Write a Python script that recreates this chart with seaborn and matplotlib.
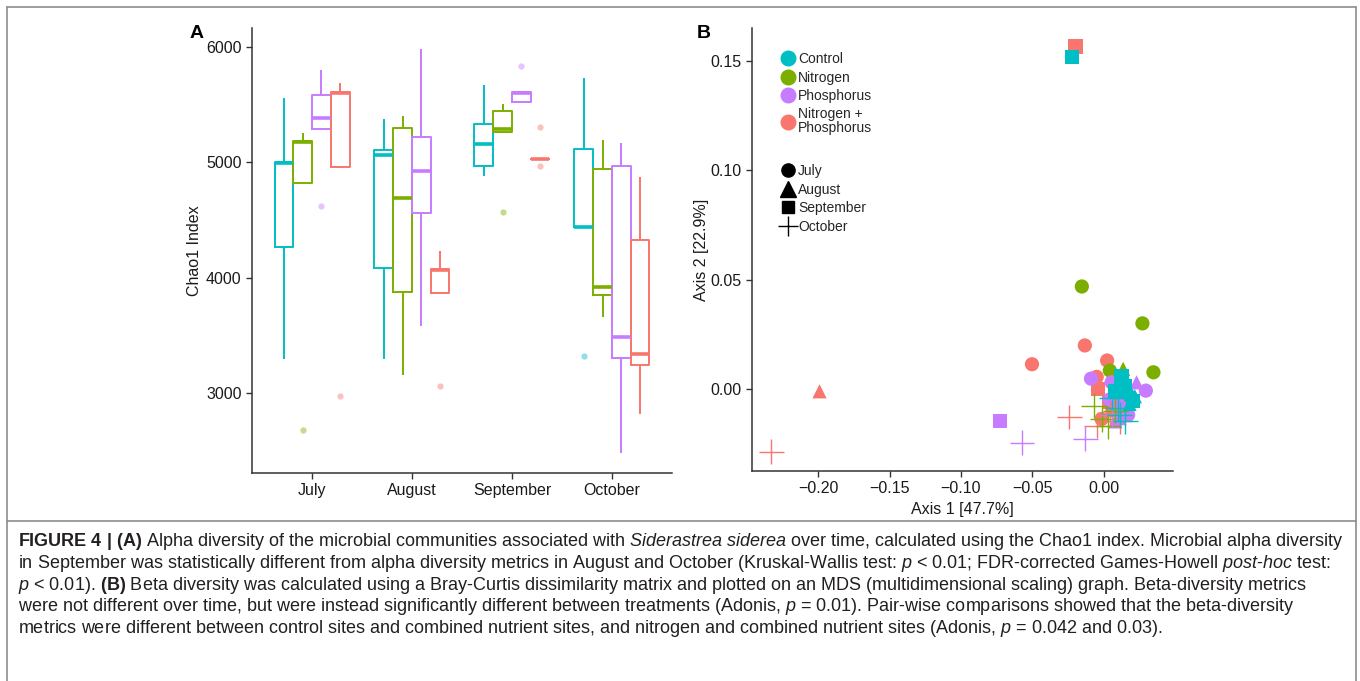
import pandas as pd
import seaborn as sns
import matplotlib.pyplot as plt
from matplotlib.lines import Line2D
from matplotlib.ticker import FuncFormatter

months = ['July', 'August', 'September', 'October']
treatments = ['Control', 'Nitrogen', 'Phosphorus', 'Nitrogen + Phosphorus']
colors = ['#00BFC4', '#7CAE00', '#C77CFF', '#F8766D']

# Chao1 values, one list per month (July, August, September, October)
chao_control = [[3295, 4270, 4990, 5000, 5555],
                [3295, 4084, 5060, 5104, 5378],
                [4884, 4965, 5156, 5332, 5673],
                [3317, 4436, 4440, 5116, 5731]]
chao_nitrogen = [[2680, 4820, 5175, 5182, 5254],
                 [3153, 3876, 4691, 5298, 5404],
                 [4569, 5263, 5289, 5442, 5506],
                 [3656, 3852, 3919, 4945, 5196]]
chao_phosphorus = [[4624, 5292, 5384, 5581, 5803],
                   [3584, 4560, 4921, 5216, 5983],
                   [5520, 5523, 5600, 5607, 5832],
                   [2480, 3304, 3486, 4965, 5168]]
chao_np = [[2971, 4956, 5600, 5607, 5688],
           [3058, 3867, 4063, 4075, 4228],
           [4971, 5030, 5030, 5030, 5309],
           [2821, 3245, 3335, 4329, 4873]]

# MDS coordinates (axis 1, axis 2, month)
ctrl_ax1 = [0.010, 0.016, 0.012, 0.019, 0.0217, 0.014, 0.018, -0.0222, 0.0124, 0.0147, 0.0205, 0.008,
            0.0054, 0.011, 0.010, 0.015]
ctrl_ax2 = [-0.0005, -0.002, 0.003, -0.004, -0.0035, 0.005, -0.007, 0.1518, 0.0057, 0.001, -0.0058, -0.001,
            -0.0043, -0.012, -0.009, -0.015]
ctrl_month = ['July'] * 4 + ['August'] * 3 + ['September'] * 5 + ['October'] * 4

nit_ax1 = [-0.0154, 0.027, 0.0347, 0.0042, 0.013, 0.0135, 0.017, 0.006, 0.015, 0.009,
           -0.007, 0.003, 0.008, -0.001]
nit_ax2 = [0.0468, 0.0299, 0.0075, 0.0083, -0.002, 0.0091, -0.009, -0.006, -0.004, 0.0,
           -0.0078, -0.0173, -0.010, -0.014]
nit_month = ['July'] * 5 + ['August'] * 3 + ['September'] * 2 + ['October'] * 4

phos_ax1 = [-0.009, 0.0054, 0.0294, 0.017, 0.004, 0.0229, 0.011, 0.008, -0.0727, 0.0089, 0.012,
            -0.0573, -0.013, 0.006]
phos_ax2 = [0.0046, 0.0029, -0.0009, -0.012, -0.005, 0.0029, -0.0135, -0.015, -0.0147, -0.0058, -0.009,
            -0.0247, -0.023, -0.012]
phos_month = ['July'] * 5 + ['August'] * 3 + ['September'] * 3 + ['October'] * 3

np_ax1 = [-0.0133, -0.0503, 0.0023, -0.005, -0.0016, 0.006, -0.199, 0.012, -0.0198, -0.004, 0.004,
          -0.2329, -0.0243, -0.005, 0.0112, 0.0042]
np_ax2 = [0.0198, 0.0112, 0.0129, 0.0054, -0.0139, -0.010, -0.0012, -0.008, 0.1567, 0.0, -0.006,
          -0.0288, -0.013, -0.0169, -0.015, -0.0112]
np_month = ['July'] * 6 + ['August'] * 2 + ['September'] * 3 + ['October'] * 5

# tables
rows = []
for trt, vals in zip(treatments, [chao_control, chao_nitrogen, chao_phosphorus, chao_np]):
    for m, v in zip(months, vals):
        for x in v:
            rows.append({'month': m, 'treatment': trt, 'chao1': x})
alpha_df = pd.DataFrame(rows)

parts = []
for trt, a1, a2, mo in [('Nitrogen + Phosphorus', np_ax1, np_ax2, np_month),
                        ('Nitrogen', nit_ax1, nit_ax2, nit_month),
                        ('Phosphorus', phos_ax1, phos_ax2, phos_month),
                        ('Control', ctrl_ax1, ctrl_ax2, ctrl_month)]:
    parts.append(pd.DataFrame({'axis1': a1, 'axis2': a2, 'month': mo, 'treatment': trt}))
mds_df = pd.concat(parts, ignore_index=True)

sns.set_style('ticks')
plt.rcParams['font.family'] = ['Liberation Sans', 'DejaVu Sans']
plt.rcParams['mathtext.fontset'] = 'custom'
plt.rcParams['mathtext.rm'] = 'Liberation Sans'
plt.rcParams['mathtext.it'] = 'Liberation Sans:italic'
plt.rcParams['mathtext.bf'] = 'Liberation Sans:bold'

fig = plt.figure(figsize=(13.6, 6.81), dpi=100)
pal = dict(zip(treatments, colors))
txt = '#1a1a1a'
axc = '#333333'


def style_axis(ax):
    sns.despine(ax=ax)
    for s in ['left', 'bottom']:
        ax.spines[s].set_color(axc)
        ax.spines[s].set_linewidth(1.1)
    ax.tick_params(direction='out', length=4, width=1, color=axc, labelsize=11.5, labelcolor=txt)


# ---- panel A
axA = fig.add_axes([0.1853, 0.3054, 0.3088, 0.6535])
sns.boxplot(data=alpha_df, x='month', y='chao1', hue='treatment', order=months, hue_order=treatments,
            palette=pal, fill=False, width=0.75, gap=0, linewidth=1.4, fliersize=4.5,
            showcaps=False, medianprops={'linewidth': 2.6}, legend=False, ax=axA)
for ln in axA.lines:
    if ln.get_marker() == 'o':
        ln.set_markerfacecolor(ln.get_markeredgecolor())
        ln.set_markeredgewidth(0)
        ln.set_alpha(0.45)
axA.set_xlim(-0.6, 3.6)
axA.set_ylim(2306, 6165)
axA.set_yticks([3000, 4000, 5000, 6000])
axA.set_xlabel('')
axA.set_ylabel('Chao1 Index', fontsize=11.5, color=txt, labelpad=3)
style_axis(axA)
fig.text(197 / 1360, 1 - 34 / 681, 'A', fontsize=14, fontweight='bold', ha='center', va='center', color='black')

# ---- panel B
axB = fig.add_axes([0.5529, 0.3084, 0.3096, 0.6505])
filled = mds_df[mds_df['month'] != 'October']
crosses = mds_df[mds_df['month'] == 'October']
sns.scatterplot(data=filled, x='axis1', y='axis2', hue='treatment', palette=pal, style='month',
                markers={'July': 'o', 'August': '^', 'September': 's'}, s=105, linewidth=0,
                legend=False, ax=axB)
sns.scatterplot(data=crosses, x='axis1', y='axis2', hue='treatment', palette=pal, marker='+',
                s=320, linewidth=1.0, legend=False, ax=axB)
axB.set_xlim(-0.2463, 0.0484)
axB.set_ylim(-0.0377, 0.1652)
axB.set_xticks([-0.20, -0.15, -0.10, -0.05, 0.00])
axB.set_yticks([0.00, 0.05, 0.10, 0.15])
fmt = FuncFormatter(lambda v, p: f'{v:.2f}'.replace('-', '\u2212'))
axB.xaxis.set_major_formatter(fmt)
axB.yaxis.set_major_formatter(fmt)
axB.set_xlabel('Axis 1 [47.7%]', fontsize=11.5, color=txt)
axB.set_ylabel('Axis 2 [22.9%]', fontsize=11.5, color=txt, labelpad=1)
style_axis(axB)
fig.text(704 / 1360, 1 - 34 / 681, 'B', fontsize=14, fontweight='bold', ha='center', va='center', color='black')

col_handles = [Line2D([], [], marker='o', ls='', color=c, markersize=10.5) for c in colors]
col_labels = ['Control', 'Nitrogen', 'Phosphorus', 'Nitrogen +\nPhosphorus']
leg1 = axB.legend(col_handles, col_labels, loc='upper left', bbox_to_anchor=(0.06, 0.958), frameon=False,
                  fontsize=10, handlelength=0.8, handletextpad=0.3, labelspacing=0.32, borderaxespad=0)
for t in leg1.get_texts():
    t.set_linespacing(0.95)
axB.add_artist(leg1)
shp_handles = [Line2D([], [], marker='o', ls='', color='black', markersize=9.5),
               Line2D([], [], marker='^', ls='', color='black', markersize=11),
               Line2D([], [], marker='s', ls='', color='black', markersize=9),
               Line2D([], [], marker='+', ls='', color='black', markersize=15, markeredgewidth=1)]
axB.legend(shp_handles, months, loc='upper left', bbox_to_anchor=(0.06, 0.705), frameon=False,
           fontsize=10, handlelength=0.8, handletextpad=0.3, labelspacing=0.32, borderaxespad=0)

# ---- frame and caption
frame = '#8c8c8c'
fig.add_artist(Line2D([7 / 1360, 7 / 1360], [0, 1 - 7 / 681], transform=fig.transFigure, color=frame, lw=1.2))
fig.add_artist(Line2D([1356 / 1360, 1356 / 1360], [0, 1 - 7 / 681], transform=fig.transFigure, color=frame, lw=1.2))
fig.add_artist(Line2D([7 / 1360, 1356 / 1360], [1 - 7 / 681, 1 - 7 / 681], transform=fig.transFigure, color=frame, lw=1.2))
fig.add_artist(Line2D([7 / 1360, 1356 / 1360], [1 - 521 / 681, 1 - 521 / 681], transform=fig.transFigure, color=frame, lw=1.2))

caption = [
    r'$\mathbf{FIGURE\ 4\ |\ (A)}$ Alpha diversity of the microbial communities associated with '
    r'$\mathit{Siderastrea\ siderea}$ over time, calculated using the Chao1 index. Microbial alpha diversity',
    r'in September was statistically different from alpha diversity metrics in August and October '
    r'(Kruskal-Wallis test: $\mathit{p}$ < 0.01; FDR-corrected Games-Howell $\mathit{post}$-$\mathit{hoc}$ test:',
    r'$\mathit{p}$ < 0.01). $\mathbf{(B)}$ Beta diversity was calculated using a Bray-Curtis dissimilarity matrix '
    r'and plotted on an MDS (multidimensional scaling) graph. Beta-diversity metrics',
    r'were not different over time, but were instead significantly different between treatments '
    r'(Adonis, $\mathit{p}$ = 0.01). Pair-wise comparisons showed that the beta-diversity',
    r'metrics were different between control sites and combined nutrient sites, and nitrogen and '
    r'combined nutrient sites (Adonis, $\mathit{p}$ = 0.042 and 0.03).',
]
for i, line in enumerate(caption):
    fig.text(18 / 1360, 1 - (542 + i * 21.6) / 681, line, fontsize=12.95, color='#231f20',
             ha='left', va='center')

plt.savefig('out.png', dpi=100)
